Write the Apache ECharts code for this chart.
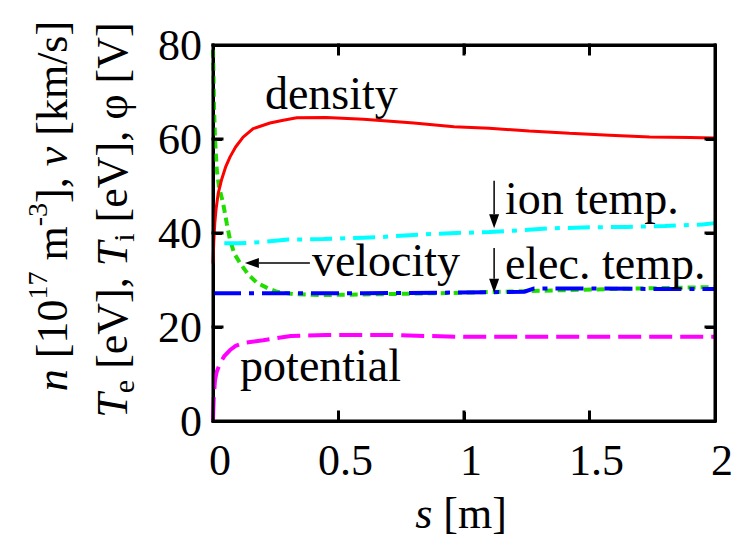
<!DOCTYPE html>
<html>
<head>
<meta charset="utf-8">
<script src="https://cdn.jsdelivr.net/npm/echarts@6/dist/echarts.min.js"></script>
<style>
  html, body { margin: 0; padding: 0; background: #fff; }
  #chart { width: 752px; height: 539px; }
</style>
</head>
<body>
<div id="chart"></div>
<script>
// Plasma profiles along the field line s [m]
const densityS = [0, 0.003, 0.007, 0.012, 0.021, 0.035, 0.05, 0.068, 0.09, 0.12, 0.16, 0.227, 0.28, 0.334, 0.45, 0.6, 0.8, 0.96, 1.1, 1.26, 1.42, 1.58, 1.74, 1.9, 2.0];
const densityN = [33.5, 38, 42, 45, 48.5, 51.5, 54, 56.2, 58.3, 60.4, 62.2, 63.4, 64.0, 64.5, 64.6, 64.2, 63.4, 62.6, 62.3, 61.7, 61.2, 60.8, 60.4, 60.3, 60.2];

const velocityS = [0, 0.002, 0.004, 0.008, 0.015, 0.025, 0.04, 0.055, 0.068, 0.085, 0.108, 0.14, 0.175, 0.22, 0.255, 0.32, 0.44, 0.7, 1.0, 1.3, 1.6, 2.0];
const velocityV = [79, 74, 67, 60, 53.4, 49.5, 46.4, 42, 38.5, 35.6, 33.6, 31.2, 29.4, 28.2, 27.5, 27.0, 26.8, 27.0, 27.3, 27.7, 28.1, 28.5];

const ionTempS = [0.045, 0.1, 0.2, 0.3, 0.44, 0.6, 0.66, 0.8, 0.97, 1.1, 1.2, 1.35, 1.5, 1.65, 1.8, 1.95, 2.0];
const ionTempT = [37.8, 37.8, 38.1, 38.6, 38.7, 39.0, 39.1, 39.6, 40.0, 40.2, 40.5, 41.0, 41.2, 41.3, 41.5, 41.8, 42.1];

const elecTempS = [0, 0.3, 0.6, 0.9, 1.1, 1.24, 1.28, 1.5, 1.75, 2.0];
const elecTempT = [27.2, 27.2, 27.2, 27.3, 27.4, 27.5, 28.2, 28.2, 28.1, 28.1];

const potentialS = [0, 0.003, 0.008, 0.015, 0.028, 0.045, 0.068, 0.09, 0.12, 0.2, 0.31, 0.45, 0.7, 1.0, 1.5, 2.0];
const potentialPhi = [0.2, 5, 8.7, 10.5, 12.3, 13.8, 15.1, 16.0, 16.6, 17.2, 18.1, 18.3, 18.3, 17.9, 17.9, 17.9];

const xTicks = [0, 0.5, 1, 1.5, 2];
const yTicks = [0, 20, 40, 60, 80];

// Annotation anchors in data units: [s, value]
const labelDensity = [0.207, 69.6];
const labelIonTemp = [1.163, 47.4];
const labelElecTemp = [1.163, 33.6];
const labelVelocity = [0.394, 34.2];
const labelPotential = [0.108, 11.9];
const arrowIonTemp = [[1.12, 51.1], [1.12, 41.0]];
const arrowElecTemp = [[1.12, 36.8], [1.12, 27.3]];
const arrowVelocity = [[0.386, 33.6], [0.127, 33.6]];

const PHI = '\u03c6';
const FONT = 'Liberation Serif';
const W = 752, H = 539;
const GRID = { left: 213, right: 37, top: 45, bottom: 118 };
const TICK_LEN = 9;

function pairs(xs, ys) { return xs.map((x, i) => [x, ys[i]]); }

// data units -> pixels inside the grid
function toPx(pt) {
  const plotW = W - GRID.left - GRID.right;
  const plotH = H - GRID.top - GRID.bottom;
  const x0 = xTicks[0], x1 = xTicks[xTicks.length - 1];
  const y0 = yTicks[0], y1 = yTicks[yTicks.length - 1];
  return [GRID.left + (pt[0] - x0) / (x1 - x0) * plotW,
          GRID.top + plotH - (pt[1] - y0) / (y1 - y0) * plotH];
}

const measureCtx = document.createElement('canvas').getContext('2d');
function textWidth(str, size, italic) {
  measureCtx.font = (italic ? 'italic ' : '') + size + 'px "' + FONT + '"';
  return measureCtx.measureText(str).width;
}

// offset from the em-box middle to the baseline, plus super/subscript shift
const MID = 0.3375;
function baseShift(p) {
  if (p.kind === 'sup') return 20 + MID * p.size;
  if (p.kind === 'sub') return -7 + MID * p.size;
  return MID * p.size;
}

function textEl(p, x, y, rotation) {
  return {
    type: 'text', x: x, y: y, rotation: rotation, silent: true, z: 20,
    style: { text: p.t, fill: '#000', fontFamily: FONT, fontSize: p.size,
      fontStyle: p.italic ? 'italic' : 'normal', align: 'left', verticalAlign: 'middle' }
  };
}

// a run of pieces written upward (rotated 90 degrees)
function verticalRun(pieces, baselineX, centerY) {
  const widths = pieces.map(p => textWidth(p.t, p.size, p.italic));
  const total = widths.reduce((a, b) => a + b, 0);
  let y = centerY + total / 2;
  return pieces.map((p, i) => {
    const el = textEl(p, baselineX - baseShift(p), y, Math.PI / 2);
    y -= widths[i];
    return el;
  });
}

// a run of pieces written left to right
function horizontalRun(pieces, centerX, baselineY) {
  const widths = pieces.map(p => textWidth(p.t, p.size, p.italic));
  const total = widths.reduce((a, b) => a + b, 0);
  let x = centerX - total / 2;
  return pieces.map((p, i) => {
    const el = textEl(p, x, baselineY - baseShift(p), 0);
    x += widths[i];
    return el;
  });
}

function note(text, pt) {
  const p = toPx(pt);
  return textEl({ t: text, size: 46 }, p[0], p[1], 0);
}

function segment(a, b, width) {
  return { type: 'line', silent: true, z: 20,
    shape: { x1: a[0], y1: a[1], x2: b[0], y2: b[1] },
    style: { stroke: '#000', lineWidth: width, lineCap: 'square' } };
}

function arrow(seg) {
  const a = toPx(seg[0]), b = toPx(seg[1]);
  const dx = b[0] - a[0], dy = b[1] - a[1];
  const len = Math.hypot(dx, dy);
  const ux = dx / len, uy = dy / len;
  const headLen = 14, headHalf = 5;
  const base = [b[0] - ux * headLen, b[1] - uy * headLen];
  return [
    { type: 'line', silent: true, z: 20,
      shape: { x1: a[0], y1: a[1], x2: base[0], y2: base[1] },
      style: { stroke: '#000', lineWidth: 1.5 } },
    { type: 'polygon', silent: true, z: 20,
      shape: { points: [b, [base[0] - uy * headHalf, base[1] + ux * headHalf], [base[0] + uy * headHalf, base[1] - ux * headHalf]] },
      style: { fill: '#000' } }
  ];
}

// plot frame with inward ticks on all four sides
function frame() {
  const x0 = xTicks[0], x1 = xTicks[xTicks.length - 1];
  const y0 = yTicks[0], y1 = yTicks[yTicks.length - 1];
  const bl = toPx([x0, y0]), br = toPx([x1, y0]), tl = toPx([x0, y1]), tr = toPx([x1, y1]);
  const els = [
    segment(bl, br, 3), segment(tl, tr, 3), segment(bl, tl, 3), segment(br, tr, 3)
  ];
  xTicks.slice(1, -1).forEach(v => {
    const b = toPx([v, y0]), t = toPx([v, y1]);
    els.push(segment(b, [b[0], b[1] - TICK_LEN], 3));
    els.push(segment(t, [t[0], t[1] + TICK_LEN], 3));
  });
  yTicks.slice(1, -1).forEach(v => {
    const l = toPx([x0, v]), r = toPx([x1, v]);
    els.push(segment(l, [l[0] + TICK_LEN, l[1]], 3));
    els.push(segment(r, [r[0] - TICK_LEN, r[1]], 3));
  });
  return els;
}

const B = 44;
const yTitle1 = [
  { t: 'n', size: B, italic: true }, { t: ' [10', size: B }, { t: '17', size: 28, kind: 'sup' },
  { t: ' m', size: B }, { t: '-3', size: 28, kind: 'sup' }, { t: '], ', size: B },
  { t: 'v', size: B, italic: true }, { t: ' [km/s]', size: B }
];
const yTitle2 = [
  { t: 'T', size: B, italic: true }, { t: 'e', size: 30, kind: 'sub' }, { t: ' [eV], ', size: B },
  { t: 'T', size: B, italic: true }, { t: 'i', size: 30, kind: 'sub' }, { t: ' [eV], ' + PHI + ' [V]', size: B }
];
const xTitle = [{ t: 's', size: B, italic: true }, { t: ' [m]', size: B }];

const graphics = [].concat(
  frame(),
  verticalRun(yTitle1, 67, 206),
  verticalRun(yTitle2, 127, 220),
  horizontalRun(xTitle, 461, 528),
  [note('density', labelDensity), note('ion temp.', labelIonTemp), note('elec. temp.', labelElecTemp),
   note('velocity', labelVelocity), note('potential', labelPotential)],
  arrow(arrowIonTemp), arrow(arrowElecTemp), arrow(arrowVelocity)
);

function frameLine() { return { show: true, onZero: false, lineStyle: { color: '#000', width: 3 } }; }
function frameTick() { return { show: true, inside: true, length: TICK_LEN, lineStyle: { color: '#000', width: 3 } }; }

const chart = echarts.init(document.getElementById('chart'), null, { renderer: 'svg' });

chart.setOption({
  animation: false,
  grid: { left: GRID.left, right: GRID.right, top: GRID.top, bottom: GRID.bottom },
  xAxis: [
    { type: 'value', position: 'bottom', min: xTicks[0], max: xTicks[xTicks.length - 1], interval: 0.5,
      axisLine: frameLine(), axisTick: frameTick(), splitLine: { show: false },
      axisLabel: { color: '#000', fontFamily: FONT, fontSize: 44, margin: 17, padding: [0, 0, 0, 14] } },
    { type: 'value', position: 'top', min: xTicks[0], max: xTicks[xTicks.length - 1], interval: 0.5,
      axisLine: frameLine(), axisTick: frameTick(), axisLabel: { show: false }, splitLine: { show: false } }
  ],
  yAxis: [
    { type: 'value', position: 'left', min: yTicks[0], max: yTicks[yTicks.length - 1], interval: 20,
      axisLine: frameLine(), axisTick: frameTick(), splitLine: { show: false },
      axisLabel: { color: '#000', fontFamily: FONT, fontSize: 44, margin: 11 } },
    { type: 'value', position: 'right', min: yTicks[0], max: yTicks[yTicks.length - 1], interval: 20,
      axisLine: frameLine(), axisTick: frameTick(), axisLabel: { show: false }, splitLine: { show: false } }
  ],
  series: [
    { name: 'density', type: 'line', data: pairs(densityS, densityN), showSymbol: false, z: 5,
      lineStyle: { color: '#ff0000', width: 3 } },
    { name: 'velocity', type: 'line', data: pairs(velocityS, velocityV), showSymbol: false, z: 3,
      lineStyle: { color: '#22dd00', width: 4, type: [8, 5] } },
    { name: 'ion temp.', type: 'line', data: pairs(ionTempS, ionTempT), showSymbol: false, z: 4,
      lineStyle: { color: '#00ffff', width: 4, type: [22, 8, 5, 8] } },
    { name: 'elec. temp.', type: 'line', data: pairs(elecTempS, elecTempT), showSymbol: false, z: 4,
      lineStyle: { color: '#0000ff', width: 4, type: [28, 8, 5, 8] } },
    { name: 'potential', type: 'line', data: pairs(potentialS, potentialPhi), showSymbol: false, z: 4,
      lineStyle: { color: '#ff00ff', width: 4, type: [23, 8] } }
  ],
  graphic: graphics
});
</script>
</body>
</html>
